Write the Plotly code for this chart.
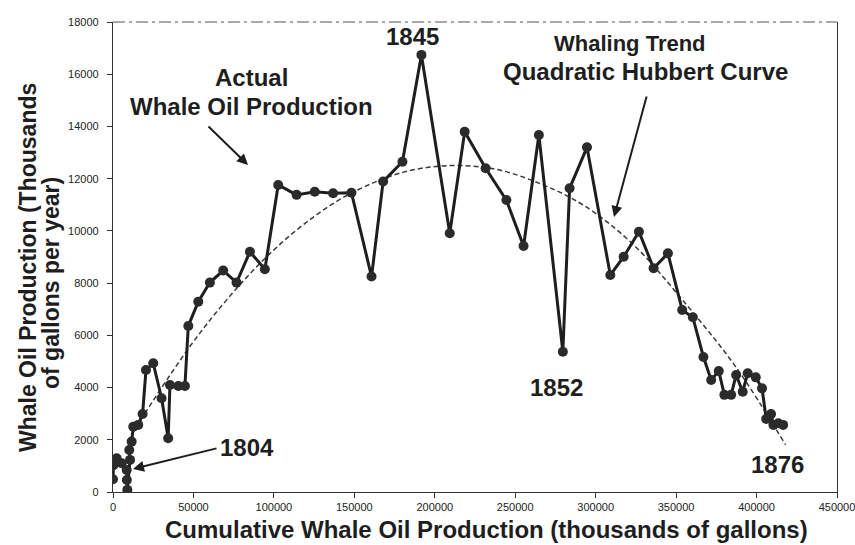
import plotly.graph_objects as go

# Actual whale oil production: cumulative (thousands of gallons) vs annual (thousands of gallons/year)
cum_prod = [0, 300, 2300, 5400, 8500, 8600, 8900, 10600, 10100, 11600,
            12600, 15700, 18400, 20500, 25000, 30200, 34300, 35400, 40600, 44700,
            46800, 53000, 60200, 68500, 76800, 85100, 94400, 102700, 114100, 125400,
            136800, 148200, 160700, 167900, 179900, 191700, 209300, 218600, 231600, 244500,
            255200, 264700, 279600, 283800, 294600, 309100, 317400, 326900, 336000, 344900,
            353800, 360400, 367000, 371800, 376500, 380000, 384200, 387300, 391400, 394500,
            399500, 403400, 406000, 409000, 410500, 413500, 416500]
annual_prod = [490, 1030, 1290, 1100, 840, 460, 80, 1230, 1610, 1930,
               2500, 2570, 2990, 4670, 4930, 3590, 2060, 4100, 4060, 4060,
               6360, 7290, 8020, 8480, 8020, 9200, 8530, 11760, 11380, 11500,
               11440, 11460, 8250, 11890, 12650, 16740, 9910, 13800, 12400, 11180,
               9420, 13670, 5370, 11630, 13200, 8310, 9010, 9970, 8570, 9140,
               6970, 6690, 5170, 4290, 4630, 3720, 3720, 4480, 3840, 4550,
               4390, 3970, 2800, 2990, 2570, 2630, 2570]

# Whaling trend (quadratic Hubbert curve)
trend_cum = [12000, 20000, 48000, 70000, 95000, 120000, 147000, 180000, 209000,
             238000, 265000, 292000, 323000, 354000, 387000, 418000]
trend_prod = [2230, 3030, 5590, 7310, 8980, 10320, 11410, 12240, 12500,
              12360, 11820, 11000, 9500, 7350, 4800, 1810]

x_ticks = [0, 50000, 100000, 150000, 200000, 250000, 300000, 350000, 400000, 450000]
y_ticks = [0, 2000, 4000, 6000, 8000, 10000, 12000, 14000, 16000, 18000]

W, H = 855, 545
L, R, T, B = 113, 18, 22, 53
PW, PH = W - L - R, H - T - B


def px(xp):
    return (xp - L) / PW


def py(yp):
    return (H - B - yp) / PH


FONT = "Liberation Sans, Arial, sans-serif"
INK = "#1e1e1e"

fig = go.Figure()
fig.add_trace(go.Scatter(
    x=trend_cum, y=trend_prod, mode="lines",
    line=dict(color="#3a3a3a", width=1.5, dash="5px,3px", shape="spline", smoothing=1.0),
    hoverinfo="skip", showlegend=False))
fig.add_trace(go.Scatter(
    x=cum_prod, y=annual_prod, mode="lines+markers",
    line=dict(color=INK, width=3),
    marker=dict(color="#2b2b2b", size=10, line=dict(width=0)),
    showlegend=False))

ann = []


def text(t, xp, yp, size=24):
    ann.append(dict(text="<b>%s</b>" % t, x=px(xp), y=py(yp), xref="paper", yref="paper",
                    xanchor="center", yanchor="middle", showarrow=False,
                    font=dict(family=FONT, size=size, color=INK)))


def arrow(tip, tail):
    ann.append(dict(text="", x=px(tip[0]), y=py(tip[1]), xref="paper", yref="paper",
                    ax=tail[0] - tip[0], ay=tail[1] - tip[1], showarrow=True,
                    arrowhead=2, arrowsize=1.1, arrowwidth=2, arrowcolor=INK))


text("Actual", 251, 78)
text("Whale Oil Production", 251, 107)
arrow((248, 165), (207, 125))
text("1845", 412, 36)
text("Whaling Trend", 630, 43, size=22)
text("Quadratic Hubbert Curve", 645, 71)
arrow((614, 217), (647, 95))
text("1852", 556, 387)
text("1804", 247, 447)
arrow((133, 469), (218, 448))
text("1876", 777, 464)

# axis titles
text("Cumulative Whale Oil Production (thousands of gallons)", 487, 529, size=24)
ann.append(dict(text="<b>Whale Oil Production (Thousands</b>", x=px(28), y=py(268),
                xref="paper", yref="paper", xanchor="center", yanchor="middle",
                textangle=-90, showarrow=False, font=dict(family=FONT, size=23, color=INK)))
ann.append(dict(text="<b>of gallons per year)</b>", x=px(51), y=py(283),
                xref="paper", yref="paper", xanchor="center", yanchor="middle",
                textangle=-90, showarrow=False, font=dict(family=FONT, size=23, color=INK)))

fig.update_layout(
    width=W, height=H,
    margin=dict(l=L, r=R, t=T, b=B, autoexpand=False),
    paper_bgcolor="white", plot_bgcolor="white",
    annotations=ann,
    shapes=[dict(type="line", xref="paper", yref="paper", x0=0, x1=1, y0=1, y1=1,
                 line=dict(color="#555", width=1.2, dash="12px,4px,3px,4px"))],
    xaxis=dict(range=[0, 450000], tickvals=x_ticks, ticktext=[str(v) for v in x_ticks],
               showgrid=False, zeroline=False, showline=True, linecolor="#333", linewidth=1.2,
               ticks="outside", ticklen=5, tickcolor="#333", ticklabeloverflow="allow",
               automargin=False,
               tickfont=dict(family=FONT, size=11, color="#222")),
    yaxis=dict(range=[0, 18000], tickvals=y_ticks, ticktext=[str(v) for v in y_ticks],
               showgrid=False, zeroline=False, showline=True, mirror=True, linecolor="#333",
               linewidth=1.2, ticks="outside", ticklen=5, tickcolor="#333",
               ticklabelstandoff=6, automargin=False,
               tickfont=dict(family=FONT, size=11, color="#222")),
)

fig.write_html("out.html", config={"displayModeBar": False},
               post_script="document.body.style.margin='0px';document.body.style.padding='0px';")
